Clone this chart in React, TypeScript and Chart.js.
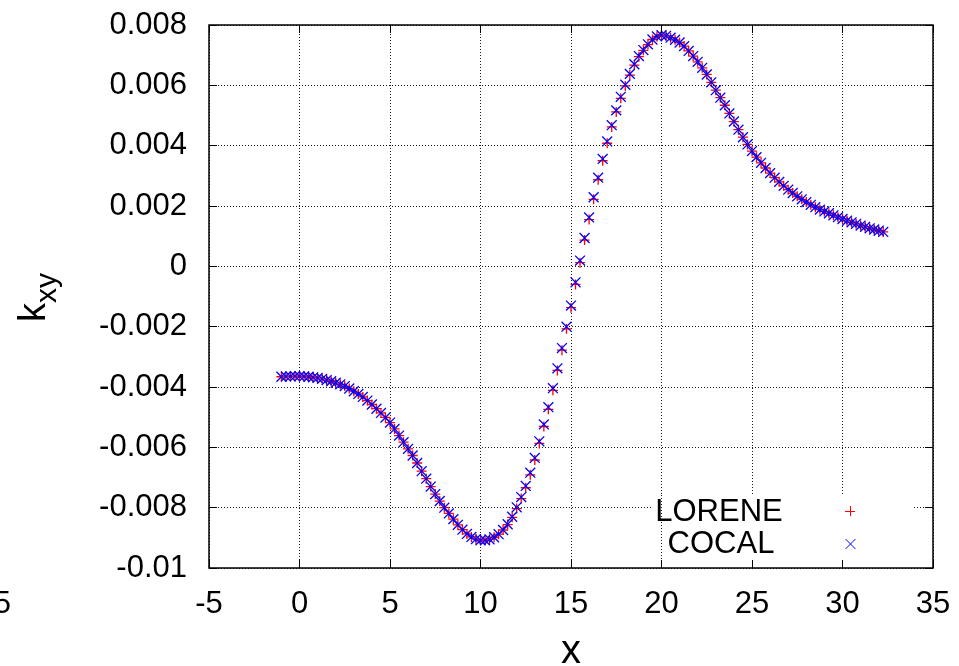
import React, { useEffect, useRef } from "react";
import { Chart, registerables } from "chart.js";

Chart.register(...registerables);

// ---- data ----
const xValues = [
  -1.0, -0.75, -0.5, -0.25,
  0.0, 0.25, 0.5, 0.75, 1.0, 1.25, 1.5, 1.75, 2.0, 2.25, 2.5, 2.75,
  3.0, 3.25, 3.5, 3.75, 4.0, 4.25, 4.5, 4.75, 5.0, 5.25, 5.5, 5.75,
  6.0, 6.25, 6.5, 6.75, 7.0, 7.25, 7.5, 7.75, 8.0, 8.25, 8.5, 8.75,
  9.0, 9.25, 9.5, 9.75, 10.0, 10.25, 10.5, 10.75, 11.0, 11.25, 11.5, 11.75,
  12.0, 12.25, 12.5, 12.75, 13.0, 13.25, 13.5, 13.75, 14.0, 14.25, 14.5, 14.75,
  15.0, 15.25, 15.5, 15.75, 16.0, 16.25, 16.5, 16.75, 17.0, 17.25, 17.5, 17.75,
  18.0, 18.25, 18.5, 18.75, 19.0, 19.25, 19.5, 19.75, 20.0, 20.25, 20.5, 20.75,
  21.0, 21.25, 21.5, 21.75, 22.0, 22.25, 22.5, 22.75, 23.0, 23.25, 23.5, 23.75,
  24.0, 24.25, 24.5, 24.75, 25.0, 25.25, 25.5, 25.75, 26.0, 26.25, 26.5, 26.75,
  27.0, 27.25, 27.5, 27.75, 28.0, 28.25, 28.5, 28.75, 29.0, 29.25, 29.5, 29.75,
  30.0, 30.25, 30.5, 30.75, 31.0, 31.25, 31.5, 31.75, 32.0, 32.25,
];

const loreneValues = [
  -3.66e-3, -3.65e-3, -3.65e-3, -3.64e-3,
  -3.64e-3, -3.65e-3, -3.66e-3, -3.68e-3, -3.70e-3, -3.73e-3, -3.77e-3, -3.81e-3, -3.86e-3, -3.91e-3, -3.97e-3, -4.05e-3,
  -4.14e-3, -4.23e-3, -4.33e-3, -4.45e-3, -4.58e-3, -4.72e-3, -4.86e-3, -5.01e-3, -5.18e-3, -5.39e-3, -5.61e-3, -5.83e-3,
  -6.05e-3, -6.27e-3, -6.52e-3, -6.79e-3, -7.04e-3, -7.30e-3, -7.55e-3, -7.78e-3, -8.00e-3, -8.19e-3, -8.38e-3, -8.57e-3,
  -8.73e-3, -8.87e-3, -8.97e-3, -9.04e-3, -9.08e-3, -9.08e-3, -9.05e-3, -8.98e-3, -8.88e-3, -8.74e-3, -8.56e-3, -8.32e-3,
  -8.03e-3, -7.70e-3, -7.34e-3, -6.91e-3, -6.42e-3, -5.87e-3, -5.31e-3, -4.74e-3, -4.11e-3, -3.45e-3, -2.78e-3, -2.07e-3,
  -1.37e-3, -0.60e-3, 0.12e-3, 0.87e-3, 1.55e-3, 2.22e-3, 2.87e-3, 3.50e-3, 4.08e-3, 4.62e-3, 5.12e-3, 5.57e-3,
  5.98e-3, 6.34e-3, 6.67e-3, 6.95e-3, 7.16e-3, 7.35e-3, 7.52e-3, 7.62e-3, 7.66e-3, 7.64e-3, 7.58e-3, 7.51e-3,
  7.42e-3, 7.30e-3, 7.14e-3, 6.97e-3, 6.78e-3, 6.58e-3, 6.36e-3, 6.10e-3, 5.84e-3, 5.59e-3, 5.34e-3, 5.07e-3,
  4.80e-3, 4.53e-3, 4.28e-3, 4.04e-3, 3.82e-3, 3.62e-3, 3.43e-3, 3.26e-3, 3.09e-3, 2.94e-3, 2.80e-3, 2.67e-3,
  2.54e-3, 2.43e-3, 2.32e-3, 2.22e-3, 2.13e-3, 2.04e-3, 1.96e-3, 1.88e-3, 1.82e-3, 1.76e-3, 1.69e-3, 1.63e-3,
  1.57e-3, 1.51e-3, 1.46e-3, 1.41e-3, 1.35e-3, 1.31e-3, 1.26e-3, 1.22e-3, 1.18e-3, 1.14e-3,
];

const cocalValues = [
  -3.66e-3, -3.65e-3, -3.65e-3, -3.64e-3,
  -3.64e-3, -3.65e-3, -3.66e-3, -3.68e-3, -3.70e-3, -3.73e-3, -3.77e-3, -3.81e-3, -3.86e-3, -3.91e-3, -3.97e-3, -4.05e-3,
  -4.14e-3, -4.23e-3, -4.33e-3, -4.45e-3, -4.58e-3, -4.72e-3, -4.86e-3, -5.01e-3, -5.18e-3, -5.39e-3, -5.61e-3, -5.83e-3,
  -6.05e-3, -6.27e-3, -6.52e-3, -6.79e-3, -7.04e-3, -7.30e-3, -7.55e-3, -7.78e-3, -8.00e-3, -8.19e-3, -8.38e-3, -8.57e-3,
  -8.73e-3, -8.87e-3, -8.97e-3, -9.04e-3, -9.08e-3, -9.08e-3, -9.05e-3, -8.98e-3, -8.88e-3, -8.74e-3, -8.55e-3, -8.30e-3,
  -7.99e-3, -7.65e-3, -7.28e-3, -6.84e-3, -6.35e-3, -5.80e-3, -5.24e-3, -4.67e-3, -4.04e-3, -3.38e-3, -2.71e-3, -2.00e-3,
  -1.30e-3, -0.53e-3, 0.19e-3, 0.94e-3, 1.62e-3, 2.29e-3, 2.94e-3, 3.56e-3, 4.14e-3, 4.68e-3, 5.17e-3, 5.62e-3,
  6.02e-3, 6.38e-3, 6.70e-3, 6.97e-3, 7.17e-3, 7.36e-3, 7.52e-3, 7.62e-3, 7.66e-3, 7.64e-3, 7.58e-3, 7.51e-3,
  7.42e-3, 7.30e-3, 7.14e-3, 6.97e-3, 6.78e-3, 6.58e-3, 6.36e-3, 6.10e-3, 5.84e-3, 5.59e-3, 5.34e-3, 5.07e-3,
  4.80e-3, 4.53e-3, 4.28e-3, 4.04e-3, 3.82e-3, 3.62e-3, 3.43e-3, 3.26e-3, 3.09e-3, 2.94e-3, 2.80e-3, 2.67e-3,
  2.54e-3, 2.43e-3, 2.32e-3, 2.22e-3, 2.13e-3, 2.04e-3, 1.96e-3, 1.88e-3, 1.82e-3, 1.76e-3, 1.69e-3, 1.63e-3,
  1.57e-3, 1.51e-3, 1.46e-3, 1.41e-3, 1.35e-3, 1.31e-3, 1.26e-3, 1.22e-3, 1.18e-3, 1.14e-3,
];

const seriesNames = ["LORENE", "COCAL"];
const xTickValues = [-5, 0, 5, 10, 15, 20, 25, 30, 35];
const xTickLabels = ["-5", "0", "5", "10", "15", "20", "25", "30", "35"];
const yTickValues = [-0.01, -0.008, -0.006, -0.004, -0.002, 0, 0.002, 0.004, 0.006, 0.008];
const yTickLabels = ["-0.01", "-0.008", "-0.006", "-0.004", "-0.002", "0", "0.002", "0.004", "0.006", "0.008"];
const xTitle = "x";
const yTitleMain = "k";
const yTitleSub = "xy";
const strayLabel = "5";

// ---- styles ----
const FONT = '"Liberation Sans", Arial, Helvetica, sans-serif';
const TICK_SIZE = 31;
const GRID = "rgba(0,0,0,0.9)";
const RED = "#ff0000";
const BLUE = "#0000ff";

const alignPx = (p: number) => Math.round(p - 0.5) + 0.5;

const zeroPadding = (s: any) => {
  s.paddingTop = 0;
  s.paddingBottom = 0;
  s.paddingLeft = 0;
  s.paddingRight = 0;
};

const decorPlugin = {
  id: "decor",
  beforeDatasetsDraw(chart: any) {
    const { ctx, chartArea: a, scales } = chart;
    const x = scales.x;
    const top = 495;
    const left = 653;
    const right = 913;
    const bottom = a.bottom;
    ctx.save();
    ctx.fillStyle = "#ffffff";
    ctx.fillRect(left, top, right - left, bottom - top);
    // grid line at x=20 remains visible through the key
    const gx = alignPx(x.getPixelForValue(20));
    ctx.strokeStyle = GRID;
    ctx.lineWidth = 1;
    ctx.setLineDash([1, 2]);
    ctx.beginPath();
    ctx.moveTo(gx, top);
    ctx.lineTo(gx, bottom);
    ctx.stroke();
    ctx.restore();
  },
  afterDraw(chart: any) {
    const { ctx, chartArea: a, scales } = chart;
    const x = scales.x;
    const y = scales.y;
    ctx.save();
    // inward tick marks on all four sides
    ctx.strokeStyle = "#000";
    ctx.lineWidth = 1;
    ctx.setLineDash([]);
    ctx.beginPath();
    const TL = 8;
    xTickValues.forEach((v) => {
      const px = alignPx(x.getPixelForValue(v));
      ctx.moveTo(px, a.bottom);
      ctx.lineTo(px, a.bottom - TL);
      ctx.moveTo(px, a.top);
      ctx.lineTo(px, a.top + TL);
    });
    yTickValues.forEach((v) => {
      const py = alignPx(y.getPixelForValue(v));
      ctx.moveTo(a.left, py);
      ctx.lineTo(a.left + TL, py);
      ctx.moveTo(a.right, py);
      ctx.lineTo(a.right - TL, py);
    });
    ctx.stroke();
    // border
    ctx.lineWidth = 1.5;
    ctx.strokeRect(a.left, a.top, a.right - a.left, a.bottom - a.top);

    // key
    ctx.fillStyle = "#000";
    ctx.font = `${TICK_SIZE}px ${FONT}`;
    ctx.textAlign = "center";
    ctx.textBaseline = "middle";
    ctx.fillText(seriesNames[0], 719, 512);
    ctx.fillText(seriesNames[1], 721, 544);
    ctx.lineWidth = 1;
    ctx.strokeStyle = RED;
    ctx.beginPath();
    ctx.moveTo(850 - 5, 511.5);
    ctx.lineTo(850 + 5, 511.5);
    ctx.moveTo(850.5, 506);
    ctx.lineTo(850.5, 516);
    ctx.stroke();
    ctx.strokeStyle = BLUE;
    ctx.beginPath();
    const d = 4.95;
    ctx.moveTo(850.5 - d, 544 - d);
    ctx.lineTo(850.5 + d, 544 + d);
    ctx.moveTo(850.5 - d, 544 + d);
    ctx.lineTo(850.5 + d, 544 - d);
    ctx.stroke();

    // y-axis title with subscript
    ctx.fillStyle = "#000";
    ctx.translate(45, 322);
    ctx.rotate(-Math.PI / 2);
    ctx.textAlign = "left";
    ctx.textBaseline = "alphabetic";
    ctx.font = `38px ${FONT}`;
    ctx.fillText(yTitleMain, 0, 0);
    const w = ctx.measureText(yTitleMain).width;
    ctx.font = `30px ${FONT}`;
    ctx.fillText(yTitleSub, w, 11);
    ctx.setTransform(1, 0, 0, 1, 0, 0);

    // clipped label at the far left edge of the picture
    ctx.font = `${TICK_SIZE}px ${FONT}`;
    ctx.textAlign = "right";
    ctx.textBaseline = "middle";
    ctx.fillText(strayLabel, 11, 604);
    ctx.restore();
  },
};

export default function App() {
  const canvasRef = useRef<HTMLCanvasElement | null>(null);

  useEffect(() => {
    document.body.style.margin = "0";
    const canvas = canvasRef.current;
    if (!canvas) return;
    const chart = new Chart(canvas, {
      type: "scatter",
      data: {
        datasets: [
          {
            label: seriesNames[1],
            data: xValues.map((xv, i) => ({ x: xv, y: cocalValues[i] })),
            pointStyle: "crossRot",
            pointRadius: 7,
            pointBorderWidth: 1.3,
            borderColor: BLUE,
            backgroundColor: BLUE,
            order: 0,
          },
          {
            label: seriesNames[0],
            data: xValues.map((xv, i) => ({ x: xv, y: loreneValues[i] })),
            pointStyle: "cross",
            pointRadius: 5,
            pointBorderWidth: 1.3,
            borderColor: RED,
            backgroundColor: RED,
            order: 1,
          },
        ],
      },
      options: {
        responsive: false,
        animation: false,
        devicePixelRatio: 1,
        events: [],
        layout: { padding: { left: 0, top: 25, right: 26, bottom: 0 } },
        plugins: {
          legend: { display: false },
          tooltip: { enabled: false },
        },
        scales: {
          x: {
            type: "linear",
            min: -5,
            max: 35,
            afterBuildTicks: (s: any) => {
              s.ticks = xTickValues.map((v) => ({ value: v }));
            },
            afterFit: (s: any) => {
              s.height = 98;
              zeroPadding(s);
            },
            grid: { color: GRID, lineWidth: 1, drawTicks: false },
            border: { display: false, dash: [1, 2] },
            ticks: {
              padding: 18,
              color: "#000",
              maxRotation: 0,
              autoSkip: false,
              font: { family: FONT, size: TICK_SIZE },
              callback: (v: any) => {
                const i = xTickValues.indexOf(Number(v));
                return i >= 0 ? xTickLabels[i] : "";
              },
            },
            title: {
              display: true,
              text: xTitle,
              color: "#000",
              font: { family: FONT, size: 40, lineHeight: 0.7 },
              padding: 0,
            },
          },
          y: {
            type: "linear",
            min: -0.01,
            max: 0.008,
            afterBuildTicks: (s: any) => {
              s.ticks = yTickValues.map((v) => ({ value: v }));
            },
            afterFit: (s: any) => {
              s.width = 209;
              zeroPadding(s);
            },
            grid: { color: GRID, lineWidth: 1, drawTicks: false },
            border: { display: false, dash: [1, 2] },
            ticks: {
              padding: 22,
              color: "#000",
              autoSkip: false,
              font: { family: FONT, size: TICK_SIZE },
              callback: (v: any) => {
                const i = yTickValues.findIndex((t) => Math.abs(t - Number(v)) < 1e-9);
                return i >= 0 ? yTickLabels[i] : "";
              },
            },
          },
        },
      },
      plugins: [decorPlugin],
    } as any);
    return () => chart.destroy();
  }, []);

  return (
    <div style={{ position: "relative", width: 959, height: 666 }}>
      <canvas
        ref={canvasRef}
        width={959}
        height={666}
        style={{ display: "block", width: 959, height: 666 }}
      />
    </div>
  );
}
